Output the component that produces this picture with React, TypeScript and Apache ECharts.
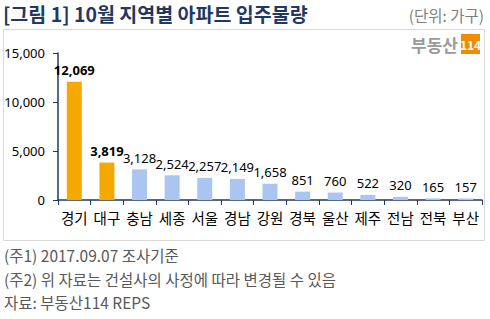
import React, { useEffect, useRef } from "react";
import * as echarts from "echarts";

const regions = ["경기", "대구", "충남", "세종", "서울", "경남", "강원", "경북", "울산", "제주", "전남", "전북", "부산"];
const households = [12069, 3819, 3128, 2524, 2257, 2149, 1658, 851, 760, 522, 320, 165, 157];
const highlighted = ["경기", "대구"];
const yTicks = [0, 5000, 10000, 15000];

const titleText = "[그림 1] 10월 지역별 아파트 입주물량";
const unitText = "(단위: 가구)";
const notes = [
  "(주1) 2017.09.07 조사기준",
  "(주2) 위 자료는 건설사의 사정에 따라 변경될 수 있음",
  "자료: 부동산114 REPS",
];

const FONT = "'Noto Sans CJK KR', 'Noto Sans', sans-serif";
const NUM_FONT = "'Noto Sans', 'Noto Sans CJK KR', sans-serif";
const NAVY = "#1F3864";
const ORANGE = "#F5A800";
const BLUE = "#A9C5F0";

export default function App() {
  const ref = useRef<HTMLDivElement>(null);

  useEffect(() => {
    if (!ref.current) return;
    const chart = echarts.init(ref.current, null, { renderer: "svg" });

    const barData = households.map((v, i) => {
      const hi = highlighted.includes(regions[i]);
      return {
        value: v,
        itemStyle: { color: hi ? ORANGE : BLUE },
        label: { fontWeight: hi ? "bold" : "normal" },
      };
    });

    chart.setOption({
      animation: false,
      textStyle: { fontFamily: FONT },
      grid: { left: 58, right: 8, top: 53, bottom: 119 },
      xAxis: {
        type: "category",
        data: regions,
        axisLine: { lineStyle: { color: NAVY, width: 1.5 } },
        axisTick: { show: true, length: 5, lineStyle: { color: NAVY } },
        axisLabel: { color: "#000", fontSize: 14.5, margin: 10, interval: 0, fontFamily: FONT },
      },
      yAxis: {
        type: "value",
        min: yTicks[0],
        max: yTicks[yTicks.length - 1],
        interval: 5000,
        splitLine: { show: false },
        axisLine: { show: true, lineStyle: { color: NAVY, width: 1.5 } },
        axisTick: { show: true, length: 5, lineStyle: { color: NAVY } },
        axisLabel: {
          color: "#000",
          fontSize: 13,
          margin: 13,
          fontFamily: NUM_FONT,
          formatter: (v: number) => v.toLocaleString("en-US"),
        },
      },
      series: [
        {
          type: "bar",
          data: barData,
          barWidth: 15,
          label: {
            show: true,
            position: "top",
            distance: 5,
            color: "#000",
            fontSize: 13,
            fontFamily: NUM_FONT,
            formatter: (p: any) => Number(p.value).toLocaleString("en-US"),
          },
        },
      ],
      graphic: [
        {
          type: "rect",
          shape: { x: 3.5, y: 29.5, width: 481, height: 211 },
          style: { fill: "none", stroke: "#D9D9D9", lineWidth: 1 },
          z: -1,
        },
        {
          type: "text",
          x: 3,
          y: 13,
          style: {
            text: titleText,
            fill: NAVY,
            font: `bold 19.5px ${FONT}`,
            textVerticalAlign: "middle",
          },
        },
        {
          type: "text",
          x: 484,
          y: 15,
          style: {
            text: unitText,
            fill: "#7F7F7F",
            font: `15.5px ${FONT}`,
            textAlign: "right",
            textVerticalAlign: "middle",
          },
        },
        {
          type: "text",
          x: 458,
          y: 44,
          style: {
            text: "부동산",
            fill: "#9A9A9A",
            font: `bold 17px ${FONT}`,
            textAlign: "right",
            textVerticalAlign: "middle",
          },
        },
        {
          type: "rect",
          shape: { x: 461, y: 34, width: 19, height: 20 },
          style: { fill: "#F08C00" },
        },
        {
          type: "text",
          x: 470.5,
          y: 44,
          style: {
            text: "114",
            fill: "#FFF",
            font: `bold 12px ${FONT}`,
            textAlign: "center",
            textVerticalAlign: "middle",
          },
        },
        ...notes.map((t, i) => ({
          type: "text",
          x: 4,
          y: 255 + i * 23.5,
          style: {
            text: t,
            fill: "#595959",
            font: `15.5px ${FONT}`,
            textVerticalAlign: "middle",
          },
        })),
      ],
    });

    return () => chart.dispose();
  }, []);

  return (
    <div
      ref={ref}
      style={{ position: "fixed", left: 0, top: 0, width: 490, height: 319, background: "#fff" }}
    />
  );
}
